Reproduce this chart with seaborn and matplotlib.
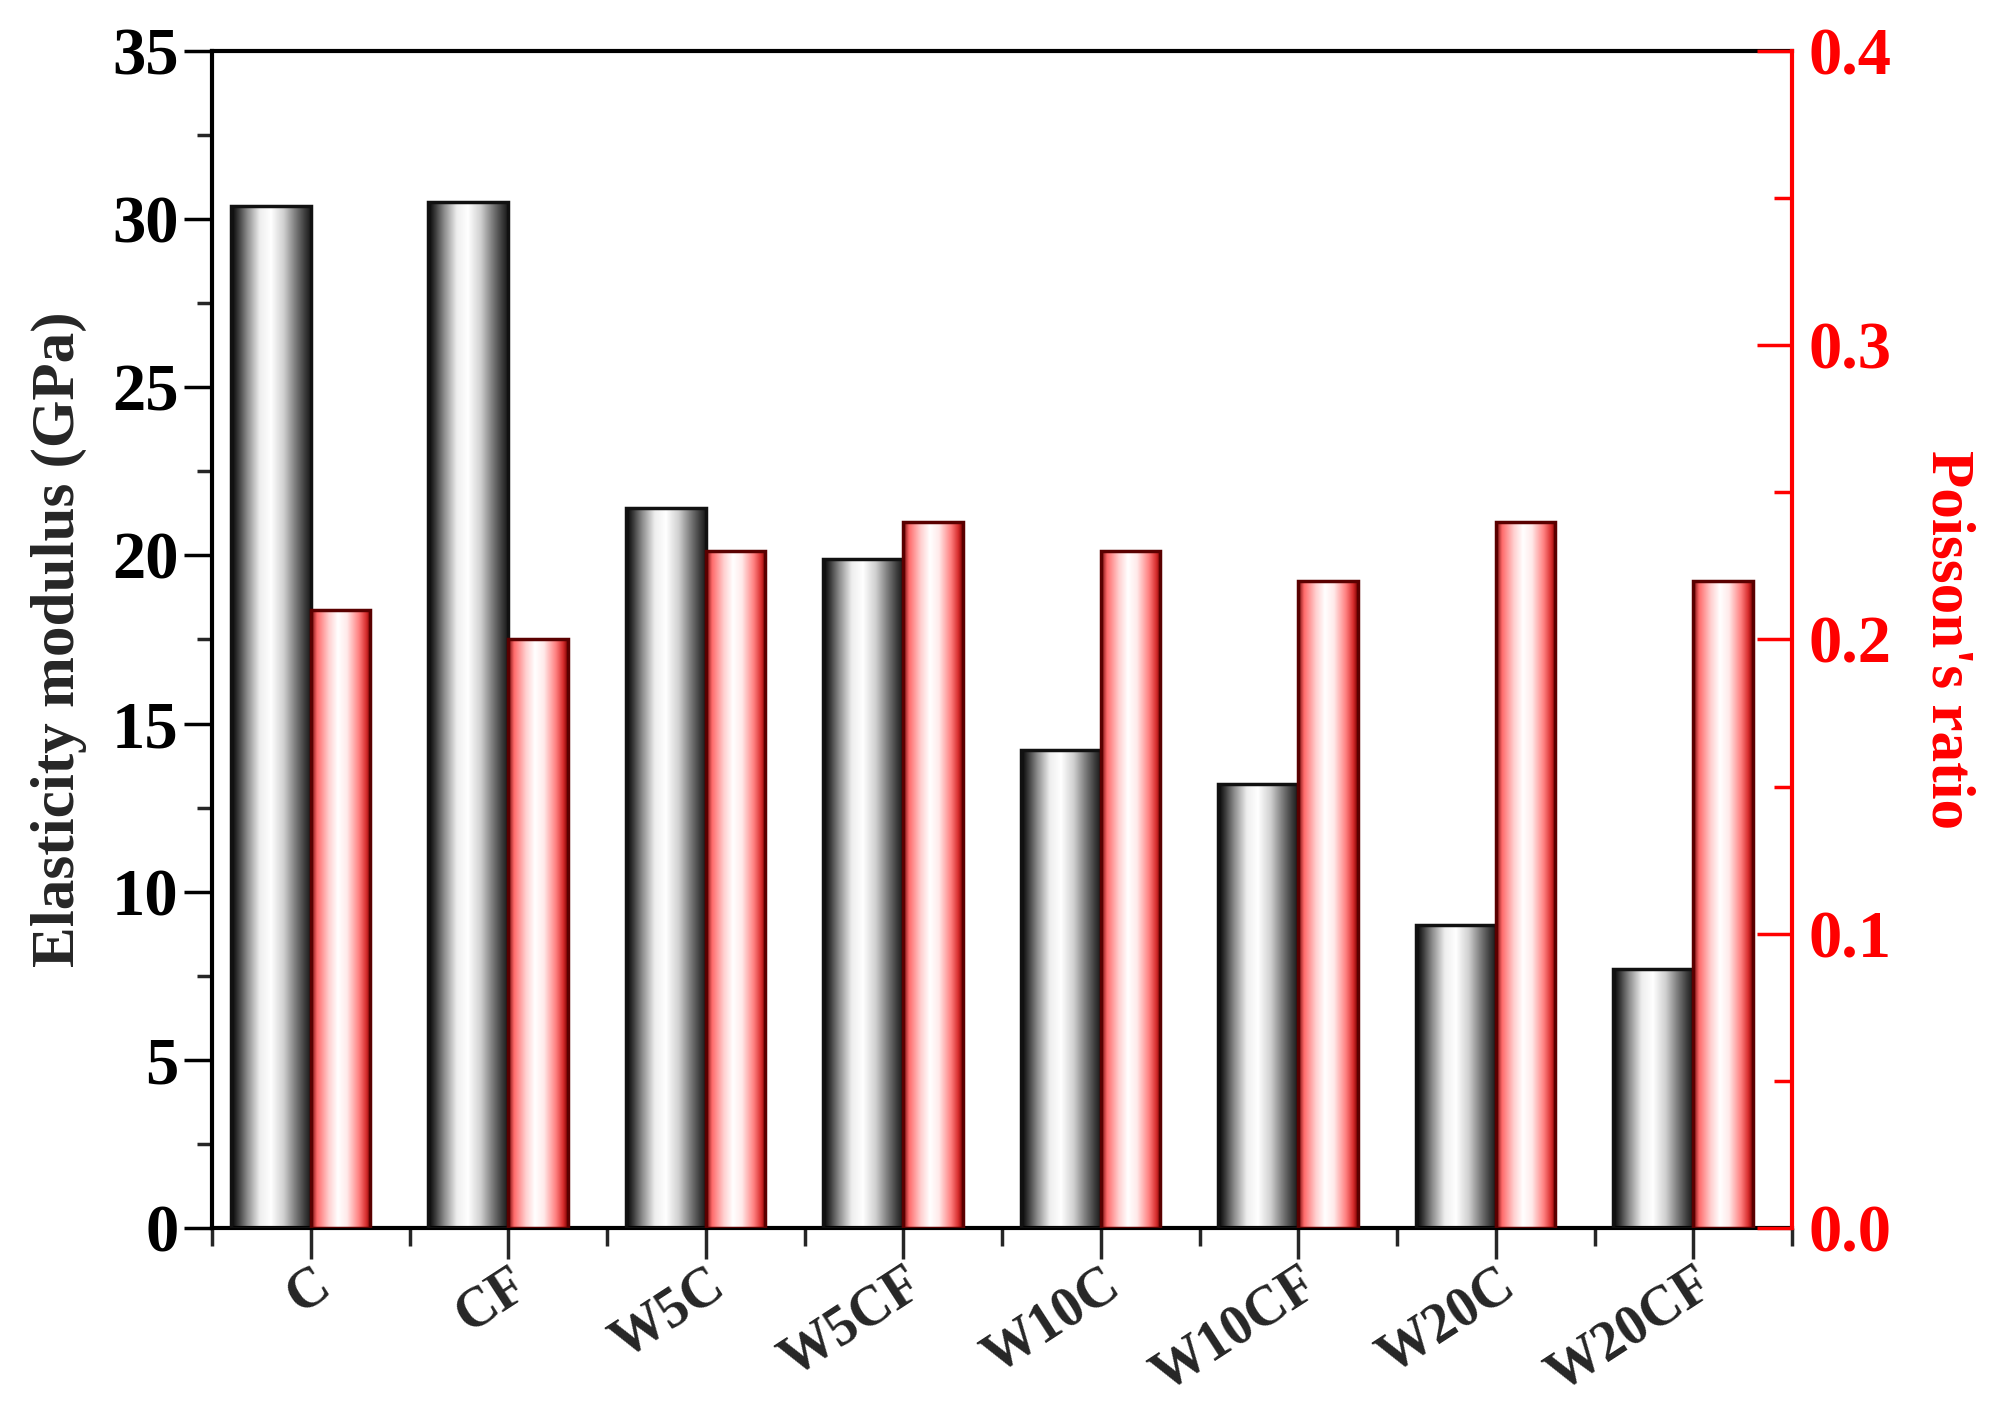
import numpy as np
import matplotlib
matplotlib.use("Agg")
import matplotlib.pyplot as plt
from matplotlib.colors import LinearSegmentedColormap
from matplotlib.ticker import MultipleLocator, FormatStrFormatter
import seaborn as sns

# data
samples = ["C", "CF", "W5C", "W5CF", "W10C", "W10CF", "W20C", "W20CF"]
modulus = [30.4, 30.5, 21.4, 19.9, 14.2, 13.2, 9.0, 7.7]
poisson = [0.21, 0.20, 0.23, 0.24, 0.23, 0.22, 0.24, 0.22]

sns.set_style("ticks")
plt.rcParams["font.family"] = ["Liberation Serif", "DejaVu Serif"]
plt.rcParams["font.weight"] = "bold"

fig = plt.figure(figsize=(20, 14.04), dpi=100)
ax = fig.add_axes([0.106, 0.1254, 0.79, 0.8383])
ax2 = ax.twinx()

# cylinder-like shading for the bars
grey_cmap = LinearSegmentedColormap.from_list("grey", [
    (0, "#000000"), (0.08, "#333333"), (0.2, "#8a8a8a"), (0.36, "#eeeeee"),
    (0.5, "#ffffff"), (0.66, "#d0d0d0"), (0.8, "#808080"), (0.92, "#404040"), (1, "#1a1a1a")])
red_cmap = LinearSegmentedColormap.from_list("red", [
    (0, "#6a0000"), (0.1, "#ff6a6a"), (0.3, "#ffd0d0"), (0.45, "#ffffff"),
    (0.6, "#ffeaea"), (0.8, "#ff8080"), (0.92, "#d83030"), (1, "#800000")])
grad = np.linspace(0, 1, 256).reshape(1, -1)

w_black = 0.405
w_red = 0.30

sns.barplot(x=samples, y=modulus, ax=ax, width=w_black, color="white",
            edgecolor="#111111", linewidth=2.5, saturation=1, zorder=3)
sns.barplot(x=samples, y=poisson, ax=ax2, width=w_red, color="white",
            edgecolor="#5a0000", linewidth=2.5, saturation=1, zorder=3)


def shade(axis, shift, cmap):
    for p in list(axis.patches):
        p.set_x(p.get_x() + shift)
        p.set_facecolor("none")
        x0, y0 = p.get_x(), p.get_y()
        img = axis.imshow(grad, extent=[x0, x0 + p.get_width(), y0, y0 + p.get_height()],
                          aspect="auto", cmap=cmap, zorder=2, interpolation="bilinear")
        img.set_clip_path(p)


shade(ax, -w_black / 2, grey_cmap)
shade(ax2, w_red / 2, red_cmap)

ax.set_xlim(-0.5, 7.5)
ax.set_ylim(0, 35)
ax2.set_ylim(0, 0.4)

# left axis
ax.yaxis.set_major_locator(MultipleLocator(5))
ax.yaxis.set_minor_locator(MultipleLocator(2.5))
ax.tick_params(axis="y", which="major", direction="out", length=20, width=2.5,
               labelsize=48, pad=4, colors="black")
ax.tick_params(axis="y", which="minor", direction="out", length=11, width=2.5)
ax.set_ylabel("Elasticity modulus (GPa)", fontsize=44, fontweight="bold", labelpad=18)

# x axis
ax.set_xticks(range(len(samples)))
ax.set_xticks(np.arange(-0.5, 8.0, 1.0), minor=True)
ax.set_xticklabels(samples, rotation=33, ha="right", rotation_mode="anchor")
ax.tick_params(axis="x", which="major", direction="out", length=22, width=2.5,
               labelsize=40, pad=0)
ax.tick_params(axis="x", which="minor", direction="out", length=13, width=2.5)
ax.set_xlabel("")

# right axis
ax2.yaxis.set_major_locator(MultipleLocator(0.1))
ax2.yaxis.set_minor_locator(MultipleLocator(0.05))
ax2.yaxis.set_major_formatter(FormatStrFormatter("%.1f"))
ax2.tick_params(axis="y", which="major", direction="in", length=25, width=2.5,
                labelsize=48, pad=12, colors="red")
ax2.tick_params(axis="y", which="minor", direction="in", length=13, width=2.5,
                colors="red")
ax2.set_ylabel("Poisson's ratio", fontsize=44, fontweight="bold", color="red",
               rotation=270, labelpad=60)

for s in ["left", "bottom", "top"]:
    ax.spines[s].set_linewidth(3)
    ax.spines[s].set_color("black")
    ax2.spines[s].set_visible(False)
ax.spines["right"].set_visible(False)
ax2.spines["right"].set_linewidth(3)
ax2.spines["right"].set_color("red")
ax.spines["top"].set_visible(True)

fig.savefig("out.png", dpi=100, facecolor="white")
